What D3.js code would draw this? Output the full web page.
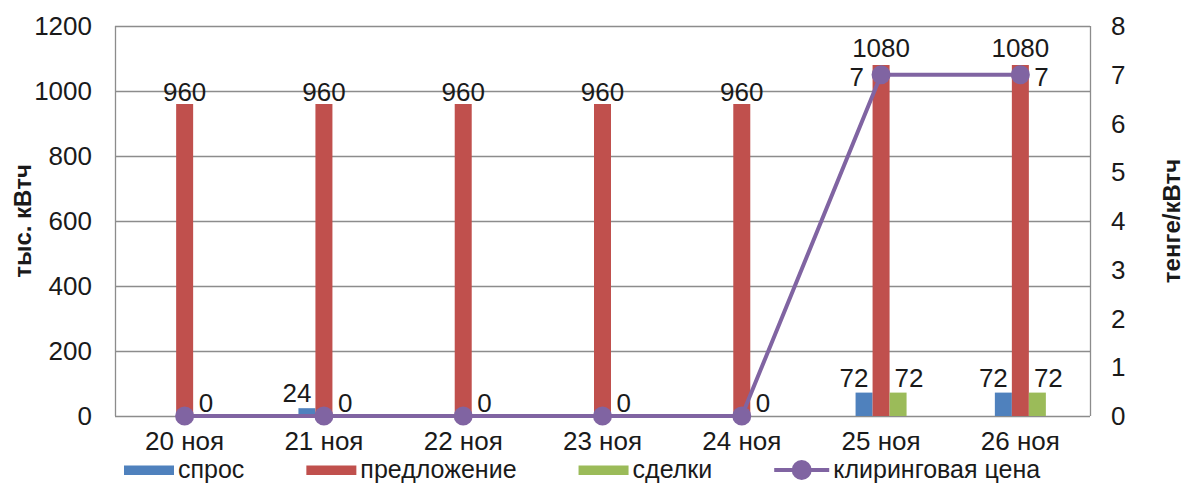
<!DOCTYPE html>
<html>
<head>
<meta charset="utf-8">
<script src="https://cdn.jsdelivr.net/npm/d3@7"></script>
<style>
  body { margin: 0; background: #fff; }
  svg text { font-family: "Liberation Sans", Arial, sans-serif; fill: #1a1a1a; }
</style>
</head>
<body>
<svg id="chart" width="1192" height="484"></svg>
<script>
// data
const days = ['20 ноя', '21 ноя', '22 ноя', '23 ноя', '24 ноя', '25 ноя', '26 ноя'];
const demand = [0, 24, 0, 0, 0, 72, 72];
const supply = [960, 960, 960, 960, 960, 1080, 1080];
const deals = [0, 0, 0, 0, 0, 72, 72];
const price = [0, 0, 0, 0, 0, 7, 7];

const leftTicks = [0, 200, 400, 600, 800, 1000, 1200];
const rightTicks = [0, 1, 2, 3, 4, 5, 6, 7, 8];
const legendNames = ['спрос', 'предложение', 'сделки', 'клиринговая цена'];

const colors = {
    demand: '#4F81BD',
    supply: '#C0504D',
    deals: '#9BBB59',
    price: '#8064A2',
    grid: '#8c8c8c'
};

const plot = { left: 115, right: 1090, top: 26, bottom: 416 };
const FONT = 26;

const svg = d3.select('#chart');

const x = d3.scaleBand().domain(days).range([plot.left, plot.right]).padding(0);
const yL = d3.scaleLinear().domain([0, 1200]).range([plot.bottom, plot.top]);
const yR = d3.scaleLinear().domain([0, 8]).range([plot.bottom, plot.top]);
const center = d => x(d) + x.bandwidth() / 2;
const barW = 17;

// grid + frame
svg.append('g').selectAll('line').data(leftTicks).join('line')
    .attr('x1', plot.left).attr('x2', plot.right)
    .attr('y1', d => Math.round(yL(d)) + 0.5).attr('y2', d => Math.round(yL(d)) + 0.5)
    .attr('stroke', colors.grid).attr('stroke-width', 1.3);

[plot.left, plot.right].forEach(px => {
    svg.append('line')
        .attr('x1', px + 0.5).attr('x2', px + 0.5)
        .attr('y1', plot.top).attr('y2', plot.bottom)
        .attr('stroke', colors.grid).attr('stroke-width', 1.3);
});

// left axis labels
svg.append('g').selectAll('text').data(leftTicks).join('text')
    .attr('x', 92).attr('y', d => yL(d) + 9)
    .attr('text-anchor', 'end').attr('font-size', FONT)
    .text(d => d);

// right axis labels
svg.append('g').selectAll('text').data(rightTicks).join('text')
    .attr('x', 1111).attr('y', d => yR(d) + 9)
    .attr('font-size', FONT)
    .text(d => d);

// category labels
svg.append('g').selectAll('text').data(days).join('text')
    .attr('x', d => center(d)).attr('y', 450)
    .attr('text-anchor', 'middle').attr('font-size', FONT)
    .text(d => d);

// axis titles
svg.append('text')
    .attr('transform', `translate(31,${(plot.top + plot.bottom) / 2}) rotate(-90)`)
    .attr('text-anchor', 'middle').attr('font-size', 24).attr('font-weight', 'bold')
    .text('тыс. кВтч');
svg.append('text')
    .attr('transform', `translate(1180,${(plot.top + plot.bottom) / 2}) rotate(-90)`)
    .attr('text-anchor', 'middle').attr('font-size', 24).attr('font-weight', 'bold')
    .text('тенге/кВтч');

// bars
const series = [
    { values: demand, color: colors.demand, shift: -1 },
    { values: supply, color: colors.supply, shift: 0 },
    { values: deals, color: colors.deals, shift: 1 }
];

series.forEach(s => {
    svg.append('g').selectAll('rect').data(s.values).join('rect')
        .attr('x', (d, i) => center(days[i]) - barW / 2 + s.shift * barW)
        .attr('y', d => yL(d))
        .attr('width', barW)
        .attr('height', d => plot.bottom - yL(d))
        .attr('fill', s.color);
});

// bar labels (blue/green only where non-zero)
svg.append('g').selectAll('text').data(supply).join('text')
    .attr('x', (d, i) => center(days[i]))
    .attr('y', d => yL(d) - (d > 1000 ? 8 : 3))
    .attr('text-anchor', 'middle').attr('font-size', FONT)
    .text(d => d);

svg.append('g').selectAll('text').data(demand.map((v, i) => [v, i]).filter(d => d[0] > 0)).join('text')
    .attr('x', d => center(days[d[1]]) - barW - 10)
    .attr('y', d => yL(d[0]) - 6)
    .attr('text-anchor', 'middle').attr('font-size', FONT)
    .text(d => d[0]);

svg.append('g').selectAll('text').data(deals.map((v, i) => [v, i]).filter(d => d[0] > 0)).join('text')
    .attr('x', d => center(days[d[1]]) + barW + 11)
    .attr('y', d => yL(d[0]) - 6)
    .attr('text-anchor', 'middle').attr('font-size', FONT)
    .text(d => d[0]);

// price line
const line = d3.line().x((d, i) => center(days[i])).y(d => yR(d));
svg.append('path').datum(price)
    .attr('d', line)
    .attr('fill', 'none').attr('stroke', colors.price).attr('stroke-width', 4);

svg.append('g').selectAll('circle').data(price).join('circle')
    .attr('cx', (d, i) => center(days[i])).attr('cy', d => yR(d))
    .attr('r', 9.5).attr('fill', colors.price);

// price labels: left of the point where the line jumps up, right otherwise
svg.append('g').selectAll('text').data(price).join('text')
    .attr('x', (d, i) => {
        const rising = i > 0 && d > price[i - 1];
        return center(days[i]) + (rising ? -17 : 14);
    })
    .attr('y', d => d > 0 ? yR(d) + 11 : yR(d) - 4)
    .attr('text-anchor', (d, i) => (i > 0 && d > price[i - 1]) ? 'end' : 'start')
    .attr('font-size', FONT)
    .text(d => d);

// legend
const legend = svg.append('g');
const swatchColors = [colors.demand, colors.supply, colors.deals, colors.price];
let lx = 124;
legendNames.forEach((name, i) => {
    const isLine = i === 3;
    const sw = isLine ? 55 : 50;
    if (isLine) {
        legend.append('line')
            .attr('x1', lx).attr('x2', lx + sw)
            .attr('y1', 470).attr('y2', 470)
            .attr('stroke', swatchColors[i]).attr('stroke-width', 4);
        legend.append('circle')
            .attr('cx', lx + sw / 2).attr('cy', 470).attr('r', 10)
            .attr('fill', swatchColors[i]);
    } else {
        legend.append('rect')
            .attr('x', lx).attr('y', 465.5)
            .attr('width', sw).attr('height', 9.5)
            .attr('fill', swatchColors[i]);
    }
    const t = legend.append('text')
        .attr('x', lx + sw + 4).attr('y', 478)
        .attr('font-size', 25)
        .text(name);
    lx += sw + 4 + t.node().getComputedTextLength() + 62;
});
</script>
</body>
</html>
